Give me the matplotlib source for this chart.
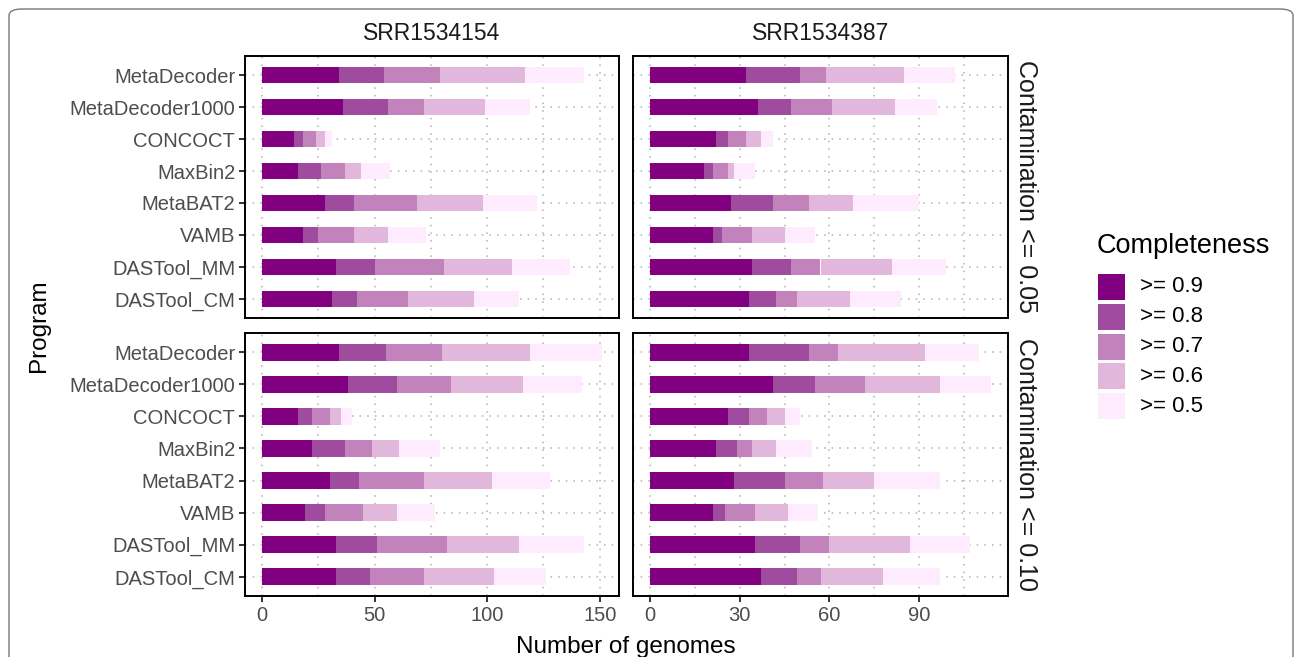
import numpy as np
import matplotlib
matplotlib.use("Agg")
from matplotlib import pyplot as plt
from matplotlib.patches import FancyBboxPatch

plt.rcParams['font.family'] = ['Liberation Sans', 'DejaVu Sans']

# programs, top to bottom
programs = ["MetaDecoder", "MetaDecoder1000", "CONCOCT", "MaxBin2",
            "MetaBAT2", "VAMB", "DASTool_MM", "DASTool_CM"]
levels = [">= 0.9", ">= 0.8", ">= 0.7", ">= 0.6", ">= 0.5"]
samples = ["SRR1534154", "SRR1534387"]
contam = ["Contamination <= 0.05", "Contamination <= 0.10"]

# genomes per completeness bin (>=0.9, >=0.8, >=0.7, >=0.6, >=0.5) for each program
srr154_c005 = [[34, 20, 25, 38, 26], [36, 20, 16, 27, 20], [14, 4, 6, 4, 3],
               [16, 10, 11, 7, 13], [28, 13, 28, 29, 24], [18, 7, 16, 15, 17],
               [33, 17, 31, 30, 26], [31, 11, 23, 29, 20]]
srr154_c010 = [[34, 21, 25, 39, 32], [38, 22, 24, 32, 26], [16, 6, 8, 5, 5],
               [22, 15, 12, 12, 18], [30, 13, 29, 30, 26], [19, 9, 17, 15, 17],
               [33, 18, 31, 32, 29], [33, 15, 24, 31, 23]]
srr387_c005 = [[32, 18, 9, 26, 17], [36, 11, 14, 21, 14], [22, 4, 6, 5, 4],
               [18, 3, 5, 2, 7], [27, 14, 12, 15, 22], [21, 3, 10, 11, 10],
               [34, 13, 10, 24, 18], [33, 9, 7, 18, 17]]
srr387_c010 = [[33, 20, 10, 29, 18], [41, 14, 17, 25, 17], [26, 7, 6, 6, 5],
               [22, 7, 5, 8, 12], [28, 17, 13, 17, 22], [21, 4, 10, 11, 10],
               [35, 15, 10, 27, 20], [37, 12, 8, 21, 19]]

colors = ['#800080', '#A04C9E', '#C283BD', '#E1B8DC', '#FEEBFD']

W, H = 1295, 657
fig = plt.figure(figsize=(W / 100, H / 100), dpi=100)
fig.patch.set_facecolor('white')

# rounded frame of the figure box (bottom is cut off)
frame = FancyBboxPatch((9 / W, -30 / H), (1284 / W), (H - 9 + 30) / H,
                       boxstyle="round,pad=0,rounding_size=0.01",
                       transform=fig.transFigure, fill=False,
                       edgecolor='#777777', linewidth=1.0)
fig.patches.append(frame)


def px_axes(x0, y0, x1, y1):
    return fig.add_axes([x0 / W, 1 - y1 / H, (x1 - x0) / W, (y1 - y0) / H])


col_x = [(245, 619), (633, 1008)]
row_y = [(56, 318), (333, 596)]
panel_data = [[srr154_c005, srr387_c005], [srr154_c010, srr387_c010]]
major_ticks = [[0, 50, 100, 150], [0, 30, 60, 90]]
minor_ticks = [[25, 75, 125], [15, 45, 75, 105]]

tick_color = '#333333'
grid_kw = dict(color='#B0B0B0', linewidth=1.1, linestyle=(0, (1, 4)), zorder=0)

for c in range(2):
    col_max = max(np.sum(panel_data[r][c], axis=1).max() for r in range(2))
    pad = col_max * 0.05
    for r in range(2):
        x0, x1 = col_x[c]
        y0, y1 = row_y[r]
        ax = px_axes(x0, y0, x1, y1)
        data = np.array(panel_data[r][c])
        ypos = np.arange(len(programs))[::-1] + 1
        left = np.zeros(len(programs))
        for k in range(5):
            ax.barh(ypos, data[:, k], left=left, height=0.52,
                    color=colors[k], edgecolor='none', zorder=2)
            left = left + data[:, k]
        ax.set_xlim(-pad, col_max + pad)
        ax.set_ylim(0.4, len(programs) + 0.6)
        ax.set_xticks(major_ticks[c])
        ax.set_xticks(minor_ticks[c], minor=True)
        ax.set_yticks(ypos)
        for v in major_ticks[c] + minor_ticks[c]:
            ax.axvline(v, **grid_kw)
        for v in ypos:
            ax.axhline(v, **grid_kw)
        for s in ax.spines.values():
            s.set_linewidth(1.4)
            s.set_color('black')
        ax.tick_params(axis='both', which='major', length=4, width=1.4,
                       color=tick_color, labelcolor='#4D4D4D', labelsize=14.5, pad=3)
        ax.tick_params(axis='x', which='minor', length=0)
        if c == 0:
            ax.set_yticklabels(programs)
        else:
            ax.tick_params(axis='y', left=False, labelleft=False)
        if r == 1:
            ax.set_xticklabels([str(t) for t in major_ticks[c]])
        else:
            ax.tick_params(axis='x', bottom=False, labelbottom=False)

# strip labels
for c in range(2):
    xc = (col_x[c][0] + col_x[c][1]) / 2
    fig.text(xc / W, 1 - 34 / H, samples[c], ha='center', va='center',
             fontsize=16.5, color='#1A1A1A')
for r in range(2):
    yc = (row_y[r][0] + row_y[r][1]) / 2
    fig.text(1026 / W, 1 - yc / H, contam[r], ha='center', va='center',
             rotation=270, fontsize=18, color='#1A1A1A')

# axis titles
fig.text(626 / W, 1 - 647 / H, "Number of genomes", ha='center', va='center',
         fontsize=17.5, color='black')
fig.text(39 / W, 1 - 326 / H, "Program", ha='center', va='center',
         rotation=90, fontsize=17.5, color='black')

# legend
fig.text(1097 / W, 1 - 246 / H, "Completeness", ha='left', va='center',
         fontsize=19.5, color='black')
key_tops = [274, 304, 334, 363, 393]
for k in range(5):
    kx = 1098 / W
    ky = 1 - (key_tops[k] + 26) / H
    fig.patches.append(plt.Rectangle((kx, ky), 27 / W, 26 / H,
                                     transform=fig.transFigure,
                                     facecolor=colors[k], edgecolor='none'))
    fig.text(1140 / W, 1 - (key_tops[k] + 13) / H, levels[k], ha='left',
             va='center', fontsize=16, color='black')

plt.savefig("out.png", dpi=100)
plt.close()
